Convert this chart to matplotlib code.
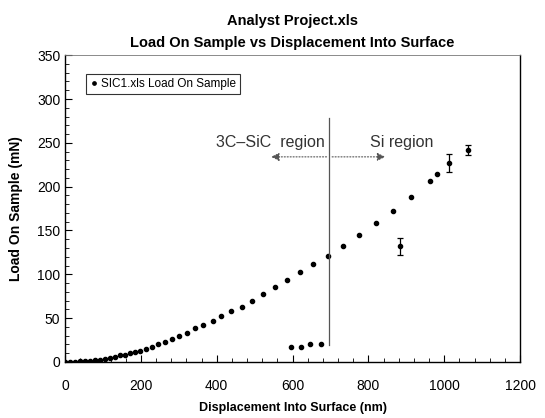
import matplotlib
matplotlib.use("Agg")
import matplotlib.pyplot as plt
from matplotlib import font_manager
from matplotlib.ticker import MultipleLocator

# font: narrow Arial-like if available
names = {f.name for f in font_manager.fontManager.ttflist}
fam = "Liberation Sans Narrow" if "Liberation Sans Narrow" in names else "Liberation Sans"
plt.rcParams['font.family'] = [fam, 'DejaVu Sans']

# main loading curve (nm, mN)
disp = [0, 13, 26, 40, 53, 66, 79, 92, 106, 119, 132, 145, 158, 172, 185,
        198, 214, 230, 245, 264, 282, 301, 322, 343, 364, 390, 412, 438,
        467, 493, 522, 554, 586, 620, 654, 694, 733, 776, 821, 865, 913,
        963, 982]
load = [0, 0.3, 0.5, 0.8, 1, 1.5, 2, 2.5, 3.5, 5, 6, 8, 8, 10, 11,
        13, 15, 17, 21, 23, 26, 30, 33, 39, 42, 47, 52, 58,
        63, 70, 77, 86, 94, 103, 112, 121, 132, 145, 159, 172, 188,
        207, 215]

# points with error bars
err_disp = [884, 1013, 1063]
err_load = [132, 227, 242]
err_size = [10, 10, 6]

# low stray points
low_disp = [596, 623, 646, 675]
low_load = [17, 17, 20, 20]

boundary = 697
arrow_y = 234

fig = plt.figure(figsize=(5.45, 4.18), dpi=100)
ax = fig.add_axes([0.1193, 0.134, 0.835, 0.734])

ax.plot(disp, load, 'o', color='black', markersize=3, linestyle='none',
        label='SIC1.xls Load On Sample')
ax.errorbar(err_disp, err_load, yerr=err_size, fmt='o', color='black',
            markersize=3, capsize=2, elinewidth=0.9, capthick=0.9)
ax.plot(low_disp, low_load, 'o', color='black', markersize=3, linestyle='none')

# region boundary and arrows
ax.plot([boundary, boundary], [19, 278], color='#555555', linewidth=0.9)
ax.annotate('', xy=(536, arrow_y), xytext=(boundary, arrow_y),
            arrowprops=dict(arrowstyle='-|>', color='#555555', lw=0.8,
                            linestyle=':', mutation_scale=12))
ax.annotate('', xy=(852, arrow_y), xytext=(boundary, arrow_y),
            arrowprops=dict(arrowstyle='-|>', color='#555555', lw=0.8,
                            linestyle=':', mutation_scale=12))
ax.text(541, 250, '3C\u2013SiC  region', ha='center', va='center',
        fontsize=11.5, color='#333333')
ax.text(887, 250, 'Si region', ha='center', va='center',
        fontsize=11.5, color='#333333')

ax.set_xlim(0, 1200)
ax.set_ylim(0, 350)
ax.xaxis.set_major_locator(MultipleLocator(200))
ax.xaxis.set_minor_locator(MultipleLocator(40))
ax.yaxis.set_major_locator(MultipleLocator(50))
ax.yaxis.set_minor_locator(MultipleLocator(10))
ax.tick_params(which='both', direction='in', top=False, right=False,
               labelsize=10)
ax.tick_params(which='major', length=5)
ax.tick_params(which='minor', length=3)
ax.tick_params(axis='x', pad=12)

for s in ['left', 'bottom', 'right']:
    ax.spines[s].set_linewidth(1.0)
ax.spines['top'].set_linewidth(0.6)
ax.spines['top'].set_color('#777777')

ax.set_xlabel('Displacement Into Surface (nm)', fontsize=9, fontweight='bold',
              labelpad=7)
ax.set_ylabel('Load On Sample (mN)', fontsize=10, fontweight='bold', labelpad=10)
ax.set_title('Analyst Project.xls\nLoad On Sample vs Displacement Into Surface',
             fontsize=10.5, fontweight='bold', linespacing=1.7, pad=6)

leg = ax.legend(loc='upper left', bbox_to_anchor=(0.046, 0.94), fontsize=8.5,
                frameon=True, fancybox=False, edgecolor='black',
                handlelength=0.6, handletextpad=0.3, borderpad=0.35,
                borderaxespad=0, markerscale=0.8)
leg.get_frame().set_linewidth(0.8)

fig.savefig('out.png', dpi=100)
